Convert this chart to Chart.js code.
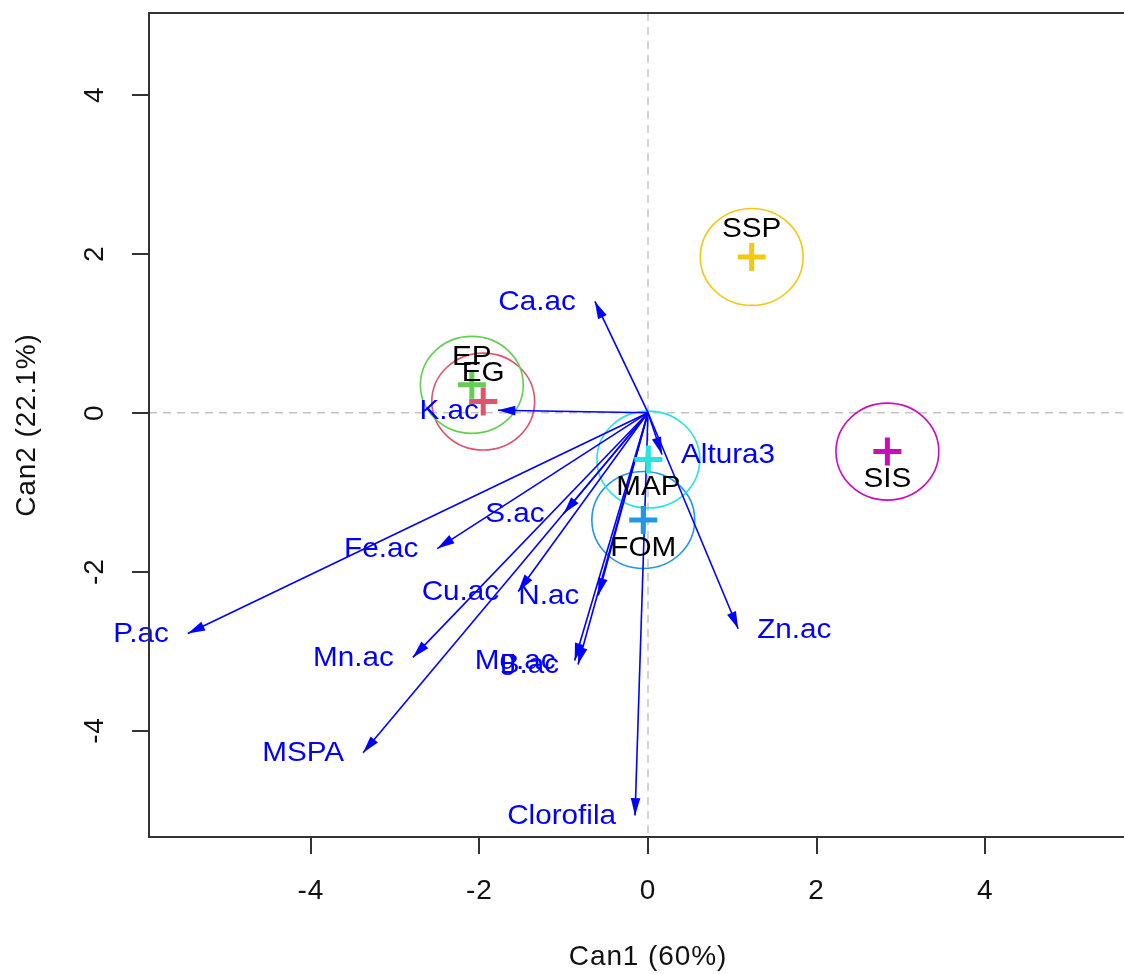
<!DOCTYPE html>
<html>
<head>
<meta charset="utf-8">
<title>Can1 / Can2</title>
<script src="https://cdn.jsdelivr.net/npm/chart.js@4.4.1/dist/chart.umd.min.js"></script>
<style>
  html, body { margin: 0; padding: 0; background: #ffffff; overflow: hidden; }
  #wrap { width: 1172px; height: 974px; }
</style>
</head>
<body>
<div id="wrap"><canvas id="chart" width="1172" height="974"></canvas></div>
<script>
// Group centroids on the first two canonical axes
const groupNames  = ['EG', 'EP', 'FOM', 'MAP', 'SIS', 'SSP'];
const groupCan1   = [-1.955, -2.09, -0.056, 0.004, 2.84, 1.23];
const groupCan2   = [0.14, 0.35, -1.35, -0.59, -0.49, 1.96];
const groupRadius = [0.61, 0.61, 0.61, 0.61, 0.61, 0.61];
const groupColors = ['#DF536B', '#61D04F', '#2297E6', '#28E2E5', '#CD0BBC', '#F5C710'];

// Structure coefficients of the response variables (arrow tips)
const varNames = ['Ca.ac', 'K.ac', 'Altura3', 'Zn.ac', 'P.ac', 'Fe.ac', 'S.ac',
                  'Cu.ac', 'N.ac', 'Mn.ac', 'Mg.ac', 'B.ac', 'MSPA', 'Clorofila'];
const varCan1 = [-0.63, -1.78, 0.166, 1.07, -5.46, -2.50, -1.00,
                 -1.54, -0.59, -2.79, -0.87, -0.83, -3.38, -0.154];
const varCan2 = [1.40, 0.03, -0.525, -2.72, -2.78, -1.71, -1.27,
                 -2.25, -2.30, -3.08, -3.12, -3.17, -4.28, -5.07];

// Axis ticks
const xTicks = [-4, -2, 0, 2, 4];
const yTicks = [-4, -2, 0, 2, 4];

const FONT = "'Liberation Sans', Arial, Helvetica, sans-serif";
const VEC_COLOR = '#0000ff';
const TEXT_STRETCH = 1.06;

const vectorSets = varNames.map((name, i) => ({
  label: name,
  data: [{ x: 0, y: 0 }, { x: varCan1[i], y: varCan2[i] }],
  showLine: true,
  borderColor: VEC_COLOR,
  borderWidth: 1.6,
  pointRadius: 0,
  fill: false,
  order: 2,
  kind: 'vector'
}));

const groupSets = groupNames.map((name, i) => ({
  label: name,
  data: [{ x: groupCan1[i], y: groupCan2[i] }],
  pointStyle: 'cross',
  pointRadius: 14,
  pointBorderWidth: 5,
  borderWidth: 5,
  borderColor: groupColors[i],
  backgroundColor: groupColors[i],
  order: 1,
  kind: 'group'
}));

function stretchedText(ctx, text, x, y, align) {
  ctx.save();
  ctx.translate(x, y);
  ctx.scale(TEXT_STRETCH, 1);
  ctx.textAlign = align;
  ctx.textBaseline = 'middle';
  ctx.fillText(text, 0, 0);
  ctx.restore();
}

const biplot = {
  id: 'biplot',
  beforeDraw(chart) {
    // slightly wider lettering for the axis text
    if ('letterSpacing' in chart.ctx) chart.ctx.letterSpacing = '0.9px';
  },
  beforeDatasetsDraw(chart) {
    const { ctx, chartArea: a, scales: { x, y } } = chart;
    ctx.save();
    // reference lines through the origin
    ctx.strokeStyle = '#c4c4c4';
    ctx.lineWidth = 1.5;
    ctx.setLineDash([8, 6]);
    const x0 = x.getPixelForValue(0), y0 = y.getPixelForValue(0);
    ctx.beginPath();
    ctx.moveTo(x0, a.top); ctx.lineTo(x0, a.bottom);
    ctx.moveTo(a.left, y0); ctx.lineTo(a.right, y0);
    ctx.stroke();
    ctx.setLineDash([]);
    // group circles
    ctx.lineWidth = 1.6;
    groupNames.forEach((g, i) => {
      const cx = x.getPixelForValue(groupCan1[i]);
      const cy = y.getPixelForValue(groupCan2[i]);
      const rx = Math.abs(x.getPixelForValue(groupCan1[i] + groupRadius[i]) - cx);
      const ry = Math.abs(y.getPixelForValue(groupCan2[i] + groupRadius[i]) - cy);
      ctx.strokeStyle = groupColors[i];
      ctx.beginPath();
      ctx.ellipse(cx, cy, rx, ry, 0, 0, Math.PI * 2);
      ctx.stroke();
    });
    ctx.restore();
  },
  afterDatasetsDraw(chart) {
    const { ctx, chartArea: a } = chart;
    ctx.save();
    if ('letterSpacing' in ctx) ctx.letterSpacing = '0px';
    ctx.font = '28px ' + FONT;
    chart.data.datasets.forEach((ds, di) => {
      const pts = chart.getDatasetMeta(di).data;
      if (ds.kind === 'vector') {
        const p0 = pts[0], p1 = pts[1];
        const ang = Math.atan2(p1.y - p0.y, p1.x - p0.x);
        const len = 18, half = 0.27;
        ctx.fillStyle = VEC_COLOR;
        ctx.beginPath();
        ctx.moveTo(p1.x, p1.y);
        ctx.lineTo(p1.x - len * Math.cos(ang - half), p1.y - len * Math.sin(ang - half));
        ctx.lineTo(p1.x - len * Math.cos(ang + half), p1.y - len * Math.sin(ang + half));
        ctx.closePath();
        ctx.fill();
        const right = ds.data[1].x > 0;
        stretchedText(ctx, ds.label, p1.x + (right ? 19 : -19), p1.y + 1, right ? 'left' : 'right');
      }
    });
    chart.data.datasets.forEach((ds, di) => {
      if (ds.kind !== 'group') return;
      const p = chart.getDatasetMeta(di).data[0];
      ctx.fillStyle = '#000000';
      const above = ds.data[0].y > 0;
      stretchedText(ctx, ds.label, p.x, p.y + (above ? -28 : 28), 'center');
    });
    // plot frame
    ctx.strokeStyle = '#333333';
    ctx.lineWidth = 2;
    ctx.strokeRect(a.left, a.top, a.right - a.left, a.bottom - a.top);
    ctx.restore();
  }
};

new Chart(document.getElementById('chart'), {
  type: 'scatter',
  data: { datasets: [...vectorSets, ...groupSets] },
  options: {
    responsive: false,
    animation: false,
    events: [],
    layout: { autoPadding: false, padding: { top: 13, right: 25, left: 0, bottom: 0 } },
    plugins: { legend: { display: false }, tooltip: { enabled: false } },
    scales: {
      x: {
        type: 'linear',
        min: -5.92, max: 5.92,
        afterBuildTicks: s => { s.ticks = xTicks.map(v => ({ value: v })); },
        afterFit: s => { s.height = 137; s.paddingLeft = 0; s.paddingRight = 0; },
        grid: { drawOnChartArea: false, drawTicks: true, tickLength: 17, color: '#333333', lineWidth: 2 },
        border: { display: false },
        ticks: { font: { family: FONT, size: 28 }, color: '#111111', padding: 20, maxRotation: 0, minRotation: 0 },
        title: { display: true, text: 'Can1 (60%)', font: { family: FONT, size: 28 }, color: '#111111', padding: { top: 0, bottom: 0 } }
      },
      y: {
        type: 'linear',
        min: -5.34, max: 5.03,
        afterBuildTicks: s => { s.ticks = yTicks.map(v => ({ value: v })); },
        afterFit: s => { s.width = 149; s.paddingTop = 0; s.paddingBottom = 0; },
        grid: { drawOnChartArea: false, drawTicks: true, tickLength: 17, color: '#333333', lineWidth: 2 },
        border: { display: false },
        ticks: { font: { family: FONT, size: 28 }, color: '#111111', padding: 24, minRotation: 90, maxRotation: 90, crossAlign: 'center' },
        title: { display: true, text: 'Can2 (22.1%)', font: { family: FONT, size: 28 }, color: '#111111', padding: { top: 10, bottom: 0 } }
      }
    }
  },
  plugins: [biplot]
});
</script>
</body>
</html>
